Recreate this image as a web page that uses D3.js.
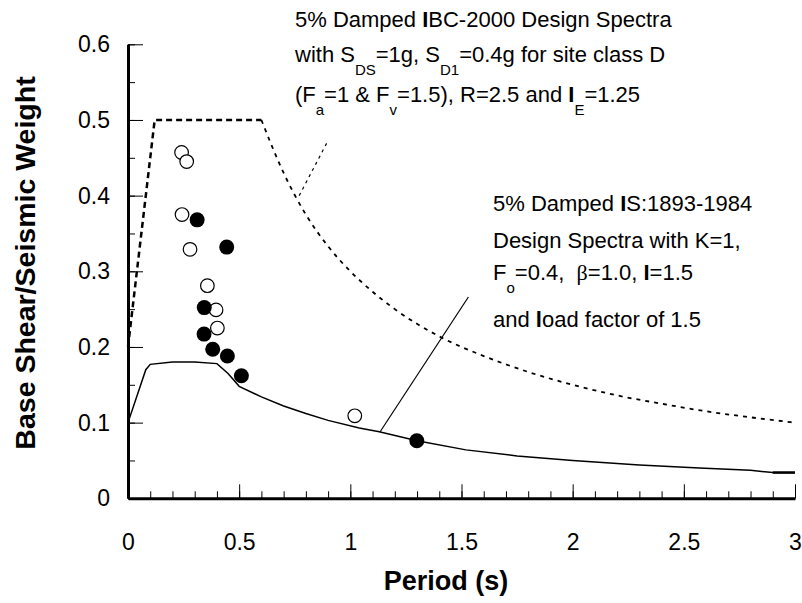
<!DOCTYPE html>
<html>
<head>
<meta charset="utf-8">
<script src="https://cdn.jsdelivr.net/npm/d3@7"></script>
<style>
  body { margin: 0; background: #fff; }
  text { font-family: "Liberation Sans", Arial, Helvetica, sans-serif; fill: #000; }
</style>
</head>
<body>
<script>
var width = 802;
var height = 603;

// IBC-2000 design spectrum (dashed)
var ibcPeriod = [0, 0.12, 0.6, 0.7, 0.8, 0.9, 1.0, 1.1, 1.2, 1.4, 1.6, 1.8, 2.0, 2.2, 2.4, 2.6, 2.8, 3.0];
var ibcValue  = [0.2, 0.5, 0.5, 0.43, 0.375, 0.333, 0.3, 0.273, 0.25, 0.214, 0.188, 0.167, 0.15, 0.136, 0.125, 0.115, 0.107, 0.1];

// IS:1893-1984 design spectrum (solid)
var isPeriod = [0, 0.08, 0.1, 0.2, 0.3, 0.4, 0.45, 0.5, 0.6, 0.7, 0.8, 0.9, 1.04, 1.13, 1.3, 1.52, 1.75, 2.0, 2.3, 2.57, 2.8, 2.9, 3.0];
var isValue  = [0.1, 0.17, 0.177, 0.18, 0.18, 0.178, 0.165, 0.148, 0.134, 0.122, 0.112, 0.103, 0.093, 0.088, 0.076, 0.064, 0.056, 0.05, 0.044, 0.04, 0.037, 0.034, 0.034];

// measured points
var openPeriod = [0.241, 0.264, 0.243, 0.279, 0.357, 0.396, 0.402, 1.02];
var openValue  = [0.457, 0.445, 0.375, 0.329, 0.281, 0.249, 0.225, 0.109];
var fillPeriod = [0.311, 0.444, 0.343, 0.342, 0.381, 0.447, 0.51, 1.299];
var fillValue  = [0.368, 0.332, 0.252, 0.217, 0.197, 0.188, 0.162, 0.076];

var xTicks = [0, 0.5, 1, 1.5, 2, 2.5, 3];
var xTickLabels = ["0", "0.5", "1", "1.5", "2", "2.5", "3"];
var yTicks = [0, 0.1, 0.2, 0.3, 0.4, 0.5, 0.6];
var yTickLabels = ["0", "0.1", "0.2", "0.3", "0.4", "0.5", "0.6"];

var svg = d3.select("body")
    .append("svg")
    .attr("width", width)
    .attr("height", height);

svg.append("rect").attr("width", width).attr("height", height).attr("fill", "#fff");

var x = d3.scaleLinear().domain([0, 3]).range([128, 795]);
var y = d3.scaleLinear().domain([0, 0.6]).range([498.3, 44.3]);

// minor ticks
svg.append("g")
    .attr("transform", "translate(0," + y(0) + ")")
    .call(d3.axisBottom(x).tickValues(d3.range(0, 31).map(function(i){ return i / 10; }))
        .tickSize(-7).tickSizeOuter(0).tickFormat(""))
    .call(function(g){ g.select(".domain").remove(); });
svg.append("g")
    .attr("transform", "translate(" + x(0) + ",0)")
    .call(d3.axisLeft(y).tickValues(d3.range(0, 13).map(function(i){ return i / 20; }))
        .tickSize(-7).tickSizeOuter(0).tickFormat(""))
    .call(function(g){ g.select(".domain").remove(); });

// major axes
svg.append("g")
    .attr("transform", "translate(0," + y(0) + ")")
    .call(d3.axisBottom(x).tickValues(xTicks)
        .tickFormat(function(d, i){ return xTickLabels[i]; })
        .tickSize(-14).tickSizeOuter(0).tickPadding(35));
svg.append("g")
    .attr("transform", "translate(" + x(0) + ",0)")
    .call(d3.axisLeft(y).tickValues(yTicks)
        .tickFormat(function(d, i){ return yTickLabels[i]; })
        .tickSize(-15).tickSizeOuter(0).tickPadding(18));

svg.selectAll(".tick line").attr("stroke", "#000").attr("stroke-width", 1);
svg.selectAll(".domain").attr("stroke", "#000").attr("stroke-width", 3);
svg.selectAll(".tick text")
    .style("font-family", "'Liberation Sans', Arial, sans-serif")
    .style("font-size", "23px")
    .attr("fill", "#000");

// axis titles
svg.append("text")
    .attr("transform", "translate(35,263) rotate(-90)")
    .attr("text-anchor", "middle")
    .style("font-size", "28.5px")
    .style("font-weight", "bold")
    .text("Base Shear/Seismic Weight");

svg.append("text")
    .attr("x", 446)
    .attr("y", 590)
    .attr("text-anchor", "middle")
    .style("font-size", "27px")
    .style("font-weight", "bold")
    .text("Period (s)");

// curves
var line = d3.line()
    .x(function(d){ return x(d[0]); })
    .y(function(d){ return y(d[1]); });

var ibc = ibcPeriod.map(function(t, i){ return [t, ibcValue[i]]; });
svg.append("path")
    .attr("d", line(ibc.slice(0, 3)))
    .attr("fill", "none")
    .attr("stroke", "#000")
    .attr("stroke-width", 2.5)
    .attr("stroke-dasharray", "6,4");
svg.append("path")
    .attr("d", line.curve(d3.curveMonotoneX)(ibc.slice(2)))
    .attr("fill", "none")
    .attr("stroke", "#000")
    .attr("stroke-width", 1.8)
    .attr("stroke-dasharray", "4,5");
line.curve(d3.curveLinear);

var is = isPeriod.map(function(t, i){ return [t, isValue[i]]; });
svg.append("path")
    .attr("d", line(is))
    .attr("fill", "none")
    .attr("stroke", "#000")
    .attr("stroke-width", 1.5);
svg.append("path")
    .attr("d", line(is.slice(-2)))
    .attr("fill", "none")
    .attr("stroke", "#000")
    .attr("stroke-width", 2.5);

// leader lines
svg.append("line")
    .attr("x1", x(0.77)).attr("y1", y(0.40))
    .attr("x2", x(0.895)).attr("y2", y(0.47))
    .attr("stroke", "#000").attr("stroke-width", 1.2)
    .attr("stroke-dasharray", "3,4");
svg.append("line")
    .attr("x1", x(1.134)).attr("y1", y(0.088))
    .attr("x2", x(1.531)).attr("y2", y(0.266))
    .attr("stroke", "#000").attr("stroke-width", 1.2);

// points
svg.selectAll("circle.open")
    .data(openPeriod)
    .enter().append("circle")
    .attr("class", "open")
    .attr("cx", function(d){ return x(d); })
    .attr("cy", function(d, i){ return y(openValue[i]); })
    .attr("r", 6.8)
    .attr("fill", "#fff")
    .attr("stroke", "#000")
    .attr("stroke-width", 1.2);

svg.selectAll("circle.fill")
    .data(fillPeriod)
    .enter().append("circle")
    .attr("class", "fill")
    .attr("cx", function(d){ return x(d); })
    .attr("cy", function(d, i){ return y(fillValue[i]); })
    .attr("r", 7.5)
    .attr("fill", "#000");

// annotations
function writeLine(xp, yp, parts) {
    var t = svg.append("text")
        .attr("x", xp).attr("y", yp)
        .style("font-size", "22px");
    parts.forEach(function(p){
        var s = t.append("tspan").text(p.t);
        if (p.sub) s.attr("dy", 13).style("font-size", "15px");
        if (p.back) s.attr("dy", -13);
        if (p.b) s.style("font-weight", "bold");
        if (p.serif) s.style("font-family", "'Liberation Serif', 'DejaVu Serif', serif");
    });
}

writeLine(295, 27, [{t: "5% Damped "}, {t: "I", b: true}, {t: "BC-2000 Design Spectra"}]);
writeLine(295, 62, [{t: "with S"}, {t: "DS", sub: true}, {t: "=1g, S", back: true},
    {t: "D1", sub: true}, {t: "=0.4g for site class D", back: true}]);
writeLine(295, 102, [{t: "(F"}, {t: "a", sub: true}, {t: "=1 & F", back: true},
    {t: "v", sub: true}, {t: "=1.5), R=2.5 and ", back: true}, {t: "I", b: true},
    {t: "E", sub: true}, {t: "=1.25", back: true}]);

writeLine(493, 211, [{t: "5% Damped "}, {t: "I", b: true}, {t: "S:1893-1984"}]);
writeLine(493, 248, [{t: "Design Spectra with K=1,"}]);
writeLine(493, 280, [{t: "F"}, {t: "o", sub: true}, {t: "=0.4,\u00a0\u00a0", back: true},
    {t: "\u03b2", serif: true}, {t: "=1.0, "}, {t: "I", b: true}, {t: "=1.5"}]);
writeLine(493, 327, [{t: "and "}, {t: "l", b: true}, {t: "oad factor of 1.5"}]);
</script>
</body>
</html>
